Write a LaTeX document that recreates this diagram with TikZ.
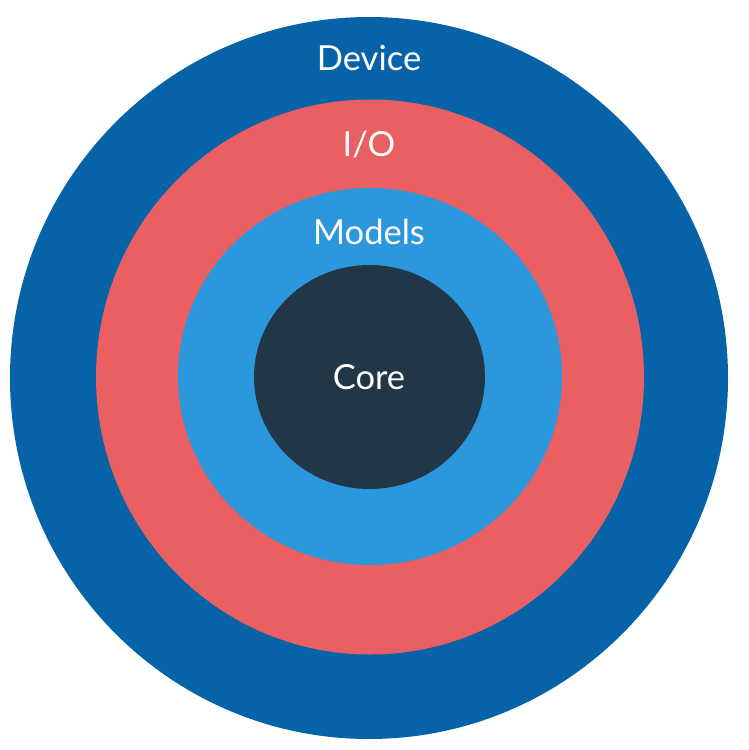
\documentclass[tikz,border=0pt]{standalone}
\usepackage{fontspec}
\setmainfont{Lato}
\usepackage{tikz}
\usetikzlibrary{shapes.geometric}
\definecolor{devc}{HTML}{0763A8}
\definecolor{ioc}{HTML}{E95F62}
\definecolor{modc}{HTML}{2B98DD}
\definecolor{corec}{HTML}{213747}
\tikzset{
  ring/.style={ellipse,draw=none,inner sep=0pt,outer sep=0pt},
  lab/.style={font=\fontsize{34.5}{38}\selectfont,text=white,inner sep=0pt,anchor=center},
}
\begin{document}
\begin{tikzpicture}[x=1pt,y=-1pt]
\useasboundingbox (0,0) rectangle (748,750);
\node[ring,fill=devc,minimum width=718pt,minimum height=722pt] (device) at (369,378) {};
\node[ring,fill=ioc,minimum width=548pt,minimum height=555pt] (io) at (370,377) {};
\node[ring,fill=modc,minimum width=384pt,minimum height=377pt] (models) at (370,376.5) {};
\node[ring,fill=corec,minimum width=231pt,minimum height=224pt] (core) at (369.5,377) {};
\node[lab] (devlab) at (369,58) {Device};
\node[lab] (iolab) at (369,145) {I/O};
\node[lab] (modlab) at (369,232) {Models};
\node[lab] (corelab) at (369,377) {Core};
\end{tikzpicture}
\end{document}
